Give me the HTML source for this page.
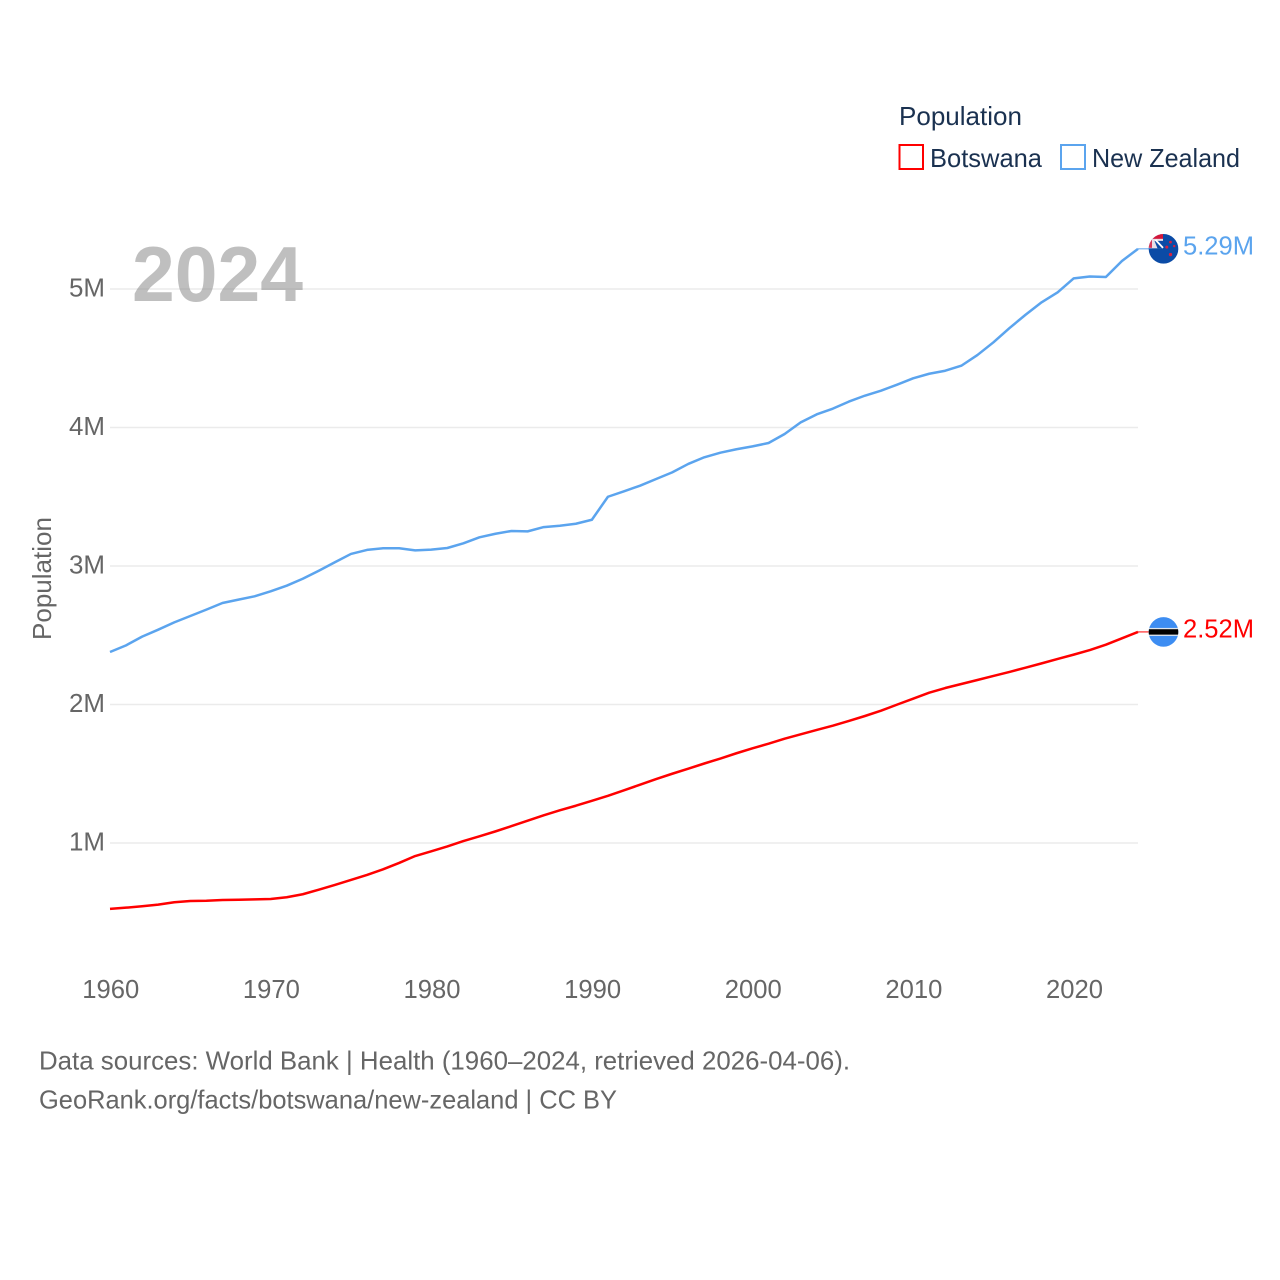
<!DOCTYPE html>
<html lang="en">
<head>
<meta charset="utf-8">
<title>Botswana and New Zealand population</title>
<style>
html,body{margin:0;padding:0;background:#fff;}
svg{display:block;font-family:"Liberation Sans",sans-serif;}
</style>
</head>
<body>
<svg id="chart" xmlns="http://www.w3.org/2000/svg" width="1280" height="1280" viewBox="0 0 1280 1280">
  <rect x="0" y="0" width="1280" height="1280" fill="#ffffff"/>
  <g id="grid"></g>
  <g id="y-axis"></g>
  <g id="x-axis"></g>
  <text transform="translate(51 640) rotate(-90)" x="0" y="0" font-size="26" fill="#666666" textLength="123" lengthAdjust="spacingAndGlyphs">Population</text>
  <text x="132" y="301" font-size="78" font-weight="700" fill="#808080" fill-opacity="0.5" textLength="171" lengthAdjust="spacingAndGlyphs">2024</text>
  <g id="series"></g>
  <g>
    <text x="899" y="125" font-size="26" fill="#1a3150" textLength="123" lengthAdjust="spacingAndGlyphs">Population</text>
    <g>
      <rect x="899.5" y="145" width="23.5" height="24" fill="#ffffff" stroke="#ff0000" stroke-width="2"/>
      <text x="930" y="167" font-size="26" fill="#1a3150" textLength="112" lengthAdjust="spacingAndGlyphs">Botswana</text>
    </g>
    <g>
      <rect x="1061" y="145" width="24" height="24" fill="#ffffff" stroke="#5ba4ee" stroke-width="2"/>
      <text x="1092" y="167" font-size="26" fill="#1a3150" textLength="148" lengthAdjust="spacingAndGlyphs">New Zealand</text>
    </g>
  </g>
  <g>
    <text x="39" y="1069.5" font-size="26" fill="#666666" textLength="811" lengthAdjust="spacingAndGlyphs">Data sources: World Bank | Health (1960–2024, retrieved 2026-04-06).</text>
    <text x="39" y="1108.5" font-size="26" fill="#666666" textLength="578" lengthAdjust="spacingAndGlyphs">GeoRank.org/facts/botswana/new-zealand | CC BY</text>
  </g>
</svg>
<script>
const years = [1960,1961,1962,1963,1964,1965,1966,1967,1968,1969,1970,1971,1972,1973,1974,1975,1976,1977,1978,1979,1980,1981,1982,1983,1984,1985,1986,1987,1988,1989,1990,1991,1992,1993,1994,1995,1996,1997,1998,1999,2000,2001,2002,2003,2004,2005,2006,2007,2008,2009,2010,2011,2012,2013,2014,2015,2016,2017,2018,2019,2020,2021,2022,2023,2024];
const botswanaValues = [0.524,0.533,0.543,0.555,0.572,0.581,0.583,0.588,0.59,0.593,0.596,0.608,0.63,0.663,0.697,0.733,0.769,0.81,0.856,0.906,0.94,0.975,1.014,1.048,1.084,1.122,1.161,1.2,1.236,1.269,1.305,1.341,1.38,1.421,1.462,1.5,1.537,1.574,1.61,1.648,1.684,1.717,1.753,1.785,1.816,1.847,1.881,1.917,1.955,1.999,2.042,2.085,2.119,2.148,2.177,2.206,2.235,2.266,2.297,2.329,2.36,2.393,2.432,2.478,2.524];
const newZealandValues = [2.379,2.427,2.49,2.54,2.593,2.639,2.685,2.733,2.757,2.781,2.817,2.858,2.908,2.966,3.027,3.087,3.116,3.128,3.128,3.113,3.118,3.13,3.164,3.207,3.233,3.253,3.25,3.281,3.291,3.305,3.334,3.5,3.539,3.58,3.628,3.676,3.737,3.785,3.818,3.843,3.864,3.888,3.953,4.037,4.095,4.136,4.187,4.23,4.266,4.309,4.355,4.388,4.41,4.446,4.523,4.615,4.718,4.814,4.904,4.976,5.077,5.09,5.087,5.202,5.29];
const yTickValues = [1,2,3,4,5];
const yTickLabels = ["1M","2M","3M","4M","5M"];
const xTickValues = [1960,1970,1980,1990,2000,2010,2020];
const xTickLabels = ["1960","1970","1980","1990","2000","2010","2020"];

const NS = 'http://www.w3.org/2000/svg';
const xScale = function (year) { return 110 + (year - 1960) * (1028 / 64); };
const yScale = function (v) { return 981.5 - v * 138.5; };
function make(tag, parent, attrs) {
  const el = document.createElementNS(NS, tag);
  Object.keys(attrs).forEach(function (k) { el.setAttribute(k, attrs[k]); });
  parent.appendChild(el);
  return el;
}

const grid = document.getElementById('grid');
const yAxis = document.getElementById('y-axis');
const xAxis = document.getElementById('x-axis');
const seriesGroup = document.getElementById('series');

yTickValues.forEach(function (v, i) {
  const line = make('line', grid, {x1: 110, x2: 1138, y1: yScale(v), y2: yScale(v), stroke: '#ebebeb', 'stroke-width': 1.6});
  
  
  const label = make('text', yAxis, {x: 105, y: yScale(v) + 7.5, 'text-anchor': 'end', 'font-size': 26, fill: '#666666', textLength: 36, lengthAdjust: 'spacingAndGlyphs'});
  label.textContent = yTickLabels[i];
  
  
});

xTickValues.forEach(function (t, i) {
  const label = make('text', xAxis, {x: xScale(t) + 0.8, y: 998, 'text-anchor': 'middle', 'font-size': 26, fill: '#666666', textLength: 57, lengthAdjust: 'spacingAndGlyphs'});
  label.textContent = xTickLabels[i];
  
  
});

function drawSeries(values, color, key) {
  const pts = values.map(function (v, i) { return xScale(years[i]).toFixed(2) + ',' + yScale(v).toFixed(2); }).join(' ');
  const path = make('polyline', seriesGroup, {points: pts, fill: 'none', stroke: color, 'stroke-width': 2.5, 'stroke-linejoin': 'round'});
  
  
  const lastV = values[values.length - 1];
  const lastY = yScale(lastV);
  const lastX = xScale(years[years.length - 1]);
  const leader = make('line', seriesGroup, {x1: lastX, x2: lastX + 12, y1: lastY, y2: lastY, stroke: color, 'stroke-width': 1});
  
  
  const endLabel = make('text', seriesGroup, {x: 1183, y: lastY + 5.5, 'font-size': 26, fill: color, textLength: 71, lengthAdjust: 'spacingAndGlyphs'});
  endLabel.textContent = lastV.toFixed(2) + 'M';
  
  
  return lastY;
}

const botY = drawSeries(botswanaValues, '#ff0000', 'botswana');
const nzY = drawSeries(newZealandValues, '#5ba4ee', 'new-zealand');

const defs = make('defs', document.getElementById('chart'), {});
make('clipPath', defs, {id: 'flag-clip'}).appendChild(document.createElementNS(NS, 'circle')).setAttribute('r', '14.8');

const botFlag = make('g', seriesGroup, {transform: 'translate(1163.5 ' + botY + ')', 'clip-path': 'url(#flag-clip)'});


make('rect', botFlag, {x: -15, y: -15, width: 30, height: 30, fill: '#3d8df2'});
make('rect', botFlag, {x: -15, y: -4, width: 30, height: 8, fill: '#dfe6ee'});
make('rect', botFlag, {x: -15, y: -2.7, width: 30, height: 5.4, fill: '#000000'});

const nzFlag = make('g', seriesGroup, {transform: 'translate(1163.5 ' + nzY + ')', 'clip-path': 'url(#flag-clip)'});


make('rect', nzFlag, {x: -15, y: -15, width: 30, height: 30, fill: '#0b4ba6'});
make('rect', nzFlag, {x: -15, y: -15, width: 14.5, height: 14.5, fill: '#eadfe6'});
make('rect', nzFlag, {x: -15, y: -15, width: 14.5, height: 5, fill: '#d3173b'});
make('rect', nzFlag, {x: -15, y: -10, width: 3.5, height: 9, fill: '#d9385a'});
make('polygon', nzFlag, {points: '-9,-8 -0.5,-8 -0.5,-0.5 -6,-0.5', fill: '#0b4ba6'});
make('line', nzFlag, {x1: -8, y1: -9, x2: -0.5, y2: -1, stroke: '#ffffff', 'stroke-width': 1.8});
make('circle', nzFlag, {cx: 7, cy: -6.7, r: 1.4, fill: '#d8203f'});
make('circle', nzFlag, {cx: 3.3, cy: -1.7, r: 1.5, fill: '#d8203f'});
make('circle', nzFlag, {cx: 10.7, cy: -2.7, r: 1.2, fill: '#d8203f'});
make('circle', nzFlag, {cx: 7, cy: 5.7, r: 1.7, fill: '#d8203f'});
</script>
</body>
</html>
